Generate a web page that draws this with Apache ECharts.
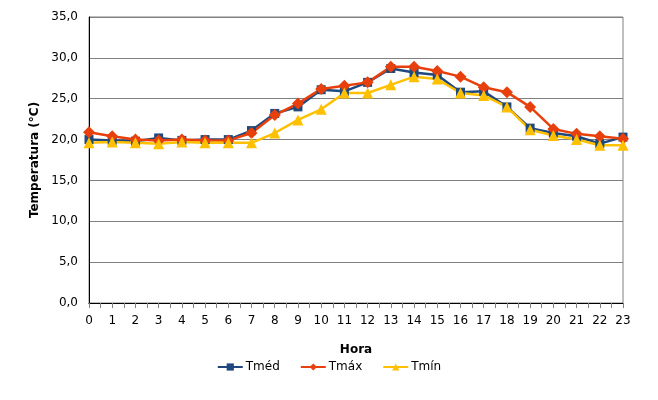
<!DOCTYPE html>
<html>
<head>
<meta charset="utf-8">
<script src="https://cdn.jsdelivr.net/npm/echarts@6/dist/echarts.min.js"></script>
<style>
  html, body { margin: 0; padding: 0; background: #fff; }
  #chart { width: 658px; height: 400px; }
</style>
</head>
<body>
<div id="chart"></div>
<script>
    var hours = [0,1,2,3,4,5,6,7,8,9,10,11,12,13,14,15,16,17,18,19,20,21,22,23];
    var tmed = [20.0,19.9,19.8,20.2,19.9,20.0,20.0,21.1,23.2,24.0,26.1,25.9,27.0,28.7,28.2,27.9,25.8,25.9,24.0,21.4,20.8,20.4,19.5,20.3];
    var tmax = [20.9,20.4,20.0,19.9,20.0,19.9,19.9,20.8,23.0,24.4,26.2,26.6,27.0,28.9,28.9,28.4,27.7,26.4,25.8,24.0,21.3,20.7,20.4,20.1];
    var tmin = [19.6,19.7,19.6,19.5,19.7,19.6,19.6,19.6,20.8,22.4,23.7,25.7,25.7,26.7,27.7,27.4,25.7,25.4,24.0,21.2,20.5,20.0,19.3,19.3];

    function pairs(vals) {
        return hours.map(function (h, i) { return [h, vals[i]]; });
    }

    var font = 'DejaVu Sans';
    var myChart = echarts.init(document.getElementById('chart'));

    option = {
        animation: false,
        textStyle: { fontFamily: font },
        grid: {
            left: 89, right: 35, top: 17, bottom: 97,
            show: true, borderColor: '#808080', borderWidth: 1
        },
        legend: {
            bottom: 22,
            left: 'center',
            itemWidth: 25,
            itemHeight: 9,
            itemGap: 20,
            textStyle: { fontFamily: font, fontSize: 12, color: '#000', padding: [0, 0, 0, -2] },
            data: ['Tméd', 'Tmáx', 'Tmín']
        },
        xAxis: [{
            type: 'value',
            min: 0, max: 23, interval: 1,
            name: 'Hora',
            nameLocation: 'middle',
            nameGap: 41,
            nameTextStyle: { fontFamily: font, fontSize: 12, fontWeight: 'bold', color: '#000' },
            axisLine: { onZero: false, lineStyle: { color: '#808080' } },
            axisTick: { show: true, length: 5, lineStyle: { color: '#808080' } },
            minorTick: { show: true, splitNumber: 2, length: 5, lineStyle: { color: '#808080' } },
            axisLabel: { fontFamily: font, fontSize: 12, color: '#000', margin: 12 },
            splitLine: { show: false }
        }, {
            type: 'value',
            position: 'top',
            min: 0, max: 23,
            axisLine: { show: true, lineStyle: { color: '#000', width: 1 } },
            axisTick: { show: false },
            axisLabel: { show: false },
            splitLine: { show: false }
        }],
        yAxis: {
            type: 'value',
            min: 0, max: 35, interval: 5,
            name: 'Temperatura (°C)',
            nameLocation: 'middle',
            nameGap: 47,
            nameTextStyle: { fontFamily: font, fontSize: 12, fontWeight: 'bold', color: '#000' },
            axisLine: { show: true, lineStyle: { color: '#000' } },
            axisTick: { show: false },
            axisLabel: {
                fontFamily: font, fontSize: 12, color: '#000', margin: 11,
                formatter: function (v) { return v.toFixed(1).replace('.', ','); }
            },
            splitLine: { show: true, lineStyle: { color: '#808080', width: 1 } }
        },
        series: [
            {
                name: 'Tméd', type: 'line', symbol: 'rect', symbolSize: 9,
                itemStyle: { color: '#1F497D' },
                lineStyle: { color: '#1F497D', width: 2.5 },
                data: pairs(tmed)
            },
            {
                name: 'Tmáx', type: 'line', symbol: 'diamond', symbolSize: 12,
                itemStyle: { color: '#E8400C' },
                lineStyle: { color: '#E8400C', width: 2.5 },
                data: pairs(tmax)
            },
            {
                name: 'Tmín', type: 'line', symbol: 'triangle', symbolSize: 11,
                itemStyle: { color: '#FFC000' },
                lineStyle: { color: '#FFC000', width: 2.5 },
                data: pairs(tmin)
            }
        ]
    };

    myChart.setOption(option);
</script>
</body>
</html>
